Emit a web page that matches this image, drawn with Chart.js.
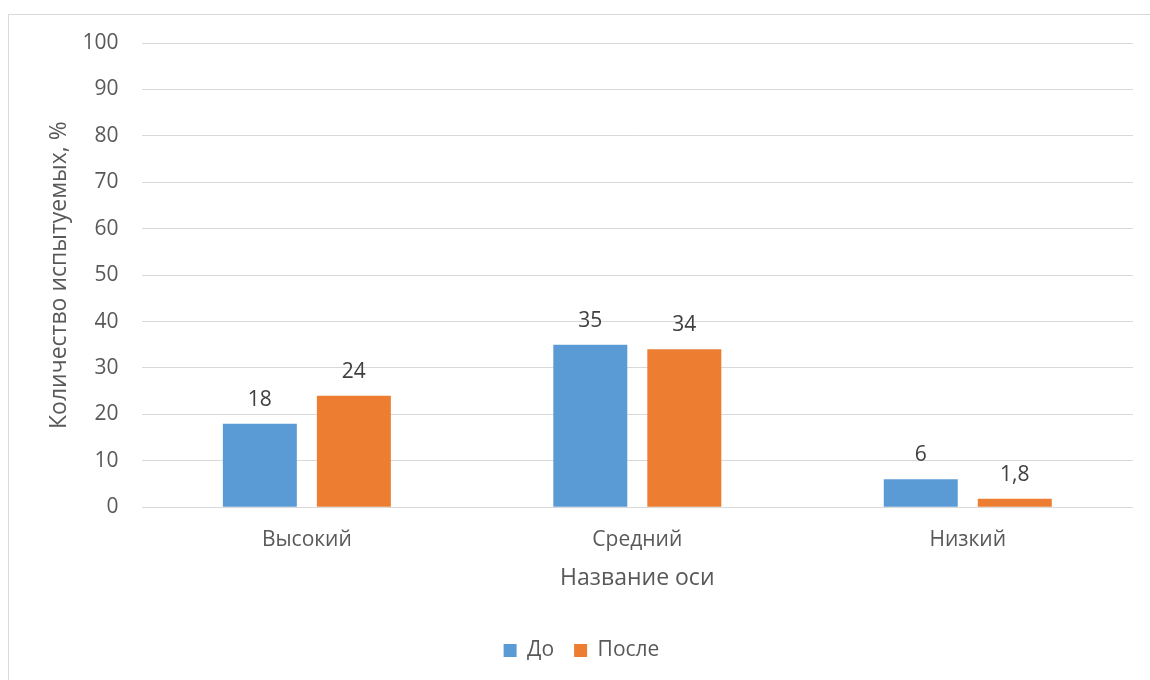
<!DOCTYPE html>
<html lang="ru">
<head>
    <meta charset="UTF-8">
    <title>Количество испытуемых</title>
    <script src="https://cdn.jsdelivr.net/npm/chart.js@4.4.0/dist/chart.umd.min.js"></script>
    <style>
        * { margin: 0; padding: 0; box-sizing: border-box; }
        body { background: #fff; width: 1150px; height: 680px; overflow: hidden; position: relative; }
        .frame {
            position: absolute; left: 8px; top: 14px; width: 1160px; height: 700px;
            border: 1px solid #d9d9d9;
        }
        .chart-box { position: absolute; left: 0; top: 0; width: 1150px; height: 680px; }
    </style>
</head>
<body>
    <div class="frame"></div>
    <div class="chart-box">
        <canvas id="chart"></canvas>
    </div>

    <script>
        const categories = ['Высокий', 'Средний', 'Низкий'];
        const before = [18, 35, 6];
        const after = [24, 34, 1.8];
        const seriesNames = ['До', 'После'];
        const yTicks = [0, 10, 20, 30, 40, 50, 60, 70, 80, 90, 100];

        const fontFamily = '"Open Sans", "Liberation Sans", sans-serif';
        const textColor = '#595959';

        // value labels above bars, written with a comma like the original
        const barLabels = {
            id: 'barLabels',
            afterDatasetsDraw(chart) {
                const ctx = chart.ctx;
                ctx.save();
                ctx.font = '21px ' + fontFamily;
                ctx.fillStyle = '#404040';
                ctx.textAlign = 'center';
                ctx.textBaseline = 'middle';
                chart.data.datasets.forEach((ds, i) => {
                    chart.getDatasetMeta(i).data.forEach((bar, j) => {
                        const txt = String(ds.data[j]).replace('.', ',');
                        ctx.fillText(txt, bar.x, bar.y - 24);
                    });
                });
                ctx.restore();
            }
        };

        new Chart(document.getElementById('chart'), {
            type: 'bar',
            data: {
                labels: categories,
                datasets: [
                    { label: seriesNames[0], data: before, backgroundColor: '#5b9bd5' },
                    { label: seriesNames[1], data: after, backgroundColor: '#ed7d31' }
                ]
            },
            options: {
                responsive: true,
                maintainAspectRatio: false,
                animation: false,
                categoryPercentage: 0.569,
                barPercentage: 0.787,
                layout: { padding: { top: 43, right: 17, bottom: 9, left: 30 } },
                plugins: {
                    legend: {
                        position: 'bottom',
                        labels: {
                            boxWidth: 13, boxHeight: 13, padding: 20,
                            color: textColor,
                            font: { size: 21, family: fontFamily }
                        }
                    },
                    tooltip: { enabled: false }
                },
                scales: {
                    x: {
                        grid: { display: false },
                        border: { display: false },
                        ticks: { color: textColor, padding: 12, font: { size: 21, family: fontFamily } },
                        title: {
                            display: true, text: 'Название оси', color: textColor,
                            padding: { top: 0, bottom: 28 },
                            font: { size: 23, family: fontFamily }
                        }
                    },
                    y: {
                        min: 0, max: 100,
                        afterBuildTicks(axis) { axis.ticks = yTicks.map(v => ({ value: v })); },
                        // drop the extra tick padding Chart.js reserves on the outer side
                        afterFit(axis) { axis.width -= 23; },
                        grid: { color: '#d9d9d9', drawTicks: false },
                        border: { display: false },
                        ticks: { color: textColor, padding: 23, font: { size: 21, family: fontFamily } },
                        title: {
                            display: true, text: 'Количество испытуемых, %', color: textColor,
                            padding: { top: 16, bottom: 9 },
                            font: { size: 23, family: fontFamily }
                        }
                    }
                }
            },
            plugins: [barLabels]
        });
    </script>
</body>
</html>
